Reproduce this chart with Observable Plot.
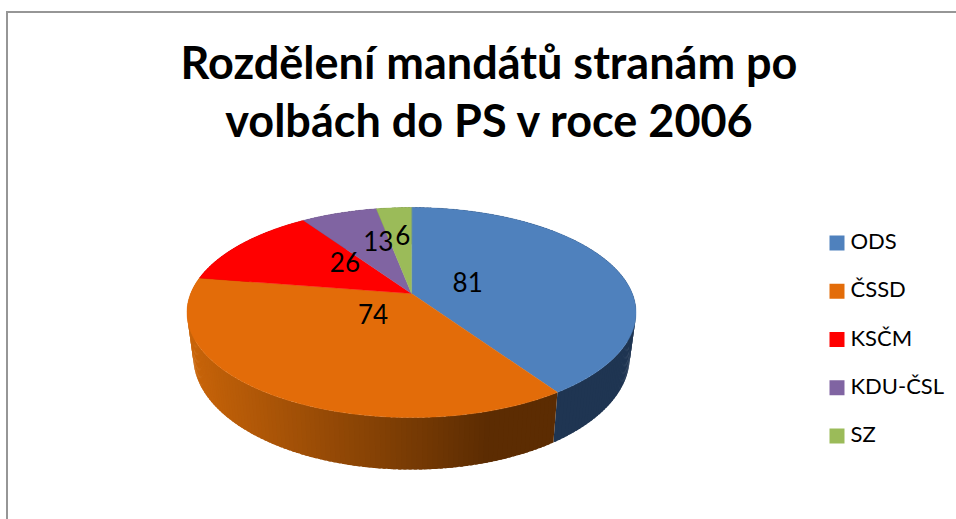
<!DOCTYPE html>
<html lang="cs">
<head>
<meta charset="utf-8">
<script src="https://cdn.jsdelivr.net/npm/d3@7"></script>
<script src="https://cdn.jsdelivr.net/npm/@observablehq/plot@0.6"></script>
<style>
  html, body { margin: 0; padding: 0; background: #fff; }
  #chart { position: relative; width: 956px; height: 519px; overflow: hidden; font-family: Lato, sans-serif; }
  #frame { position: absolute; left: 6px; top: 11px; right: 0; bottom: 0; border-left: 2px solid #969696; border-top: 2px solid #969696; }
  h1 { margin: 0; height: 161px; padding-top: 33px; box-sizing: border-box; text-align: center; font: 700 45px/58px Lato, sans-serif; color: #000; width: 978px; position: relative; }
  svg { display: block; position: relative; }
</style>
</head>
<body>
<div id="chart">
  <div id="frame"></div>
  <h1>Rozdělení mandátů stranám po<br>volbách do PS v roce 2006</h1>
</div>
<script>
const parties = ["ODS", "ČSSD", "KSČM", "KDU-ČSL", "SZ"];
const seats = [81, 74, 26, 13, 6];
const topColors = ["#4F81BD", "#E36C09", "#FF0000", "#8064A2", "#9BBB59"];
const sideColorsLeft = ["#1F3552", "#C86409", "#A00000", "#503F66", "#617538"];
const sideColorsRight = ["#1F3552", "#5C2C02", "#A00000", "#503F66", "#617538"];

// label placement along each slice's bisector (fraction of radius) and lift in px
const labelFraction = [0.27, 0.31, 0.37, 0.42, 0.45];
const labelLift = [2, 6, 10, 14, 15];

// perspective disc parameters
const titleHeight = 161, W = 956, H = 519;
const cx = 411, persp = 0.181;
const topDisc = {cy: 293, rx: 220.8, ry: 101.6};
const baseDisc = {cy: 336, rx: 214.6, ry: 109};
const project = (disc, angle, f = 1) => {
  const sx = Math.sin(angle) * f, v = -Math.cos(angle) * f, w = 1 - persp * v;
  return {x: cx + disc.rx * sx / w, y: disc.cy + disc.ry * v / w};
};

const arcs = d3.pie().sort(null).value(d => d).startAngle(0).endAngle(2 * Math.PI)(seats);

// top faces
const faces = arcs.flatMap((a, i) => {
  const n = Math.max(2, Math.ceil((a.endAngle - a.startAngle) / 0.01));
  const pts = [{...project(topDisc, 0, 0), key: parties[i], fill: topColors[i]}];
  for (let k = 0; k <= n; k++) {
    const t = a.startAngle + (a.endAngle - a.startAngle) * k / n;
    pts.push({...project(topDisc, t), key: parties[i], fill: topColors[i]});
  }
  return pts;
});

// side wall, split in quads so the shading can follow x; each quad reaches
// into its neighbour so no seam shows between them
const shade = (i, x) => d3.interpolateRgb(sideColorsLeft[i], sideColorsRight[i])(Math.max(0, Math.min(1, (x - 190) / 300)));
const walls = arcs.flatMap((a, i) => {
  const n = Math.max(2, Math.ceil((a.endAngle - a.startAngle) / 0.02));
  const step = (a.endAngle - a.startAngle) / n;
  const out = [];
  for (let k = 0; k < n; k++) {
    const t0 = a.startAngle + step * k;
    const t1 = Math.min(a.endAngle, t0 + step * 1.6);
    const segs = [0, 0.25, 0.5, 0.75, 1].map(s => t0 + (t1 - t0) * s);
    const p = [...segs.map(t => project(topDisc, t)), ...segs.reverse().map(t => project(baseDisc, t))];
    const fill = shade(i, project(topDisc, t0).x);
    p.forEach(q => out.push({...q, key: `${i}-${k}`, fill}));
  }
  return out;
});

// value labels
const labels = arcs.map((a, i) => {
  const p = project(topDisc, (a.startAngle + a.endAngle) / 2, labelFraction[i]);
  return {x: p.x, y: p.y - labelLift[i], text: String(seats[i])};
});

// legend
const legendSwatchX = 836.5, legendTextX = 850, legendY0 = 242.5, legendStep = 48.25;
const legend = parties.map((p, i) => ({name: p, color: topColors[i], y: legendY0 + i * legendStep}));

const chart = Plot.plot({
  width: W,
  height: H - titleHeight,
  margin: 0,
  x: {type: "linear", domain: [0, W], range: [0, W], axis: null},
  y: {type: "linear", domain: [titleHeight, H], range: [0, H - titleHeight], axis: null},
  color: {type: "identity"},
  style: {background: "transparent", overflow: "visible"},
  marks: [
    Plot.line(walls, {x: "x", y: "y", z: "key", fill: "fill", stroke: "none", curve: "linear-closed"}),
    Plot.line(faces, {x: "x", y: "y", z: "key", fill: "fill", stroke: "fill", strokeWidth: 0.4, curve: "linear-closed"}),
    Plot.text(labels, {x: "x", y: "y", text: "text", fontSize: 26, fontFamily: "Lato, sans-serif", fill: "#000"}),
    Plot.dot(legend, {x: legendSwatchX, y: "y", symbol: "square", r: 15 / Math.sqrt(Math.PI), fill: "color", stroke: "none"}),
    Plot.text(legend, {x: legendTextX, y: "y", text: "name", dy: -1, textAnchor: "start", fontSize: 22, fontFamily: "Lato, sans-serif", fill: "#000"})
  ]
});
document.getElementById("chart").appendChild(chart);
</script>
</body>
</html>
